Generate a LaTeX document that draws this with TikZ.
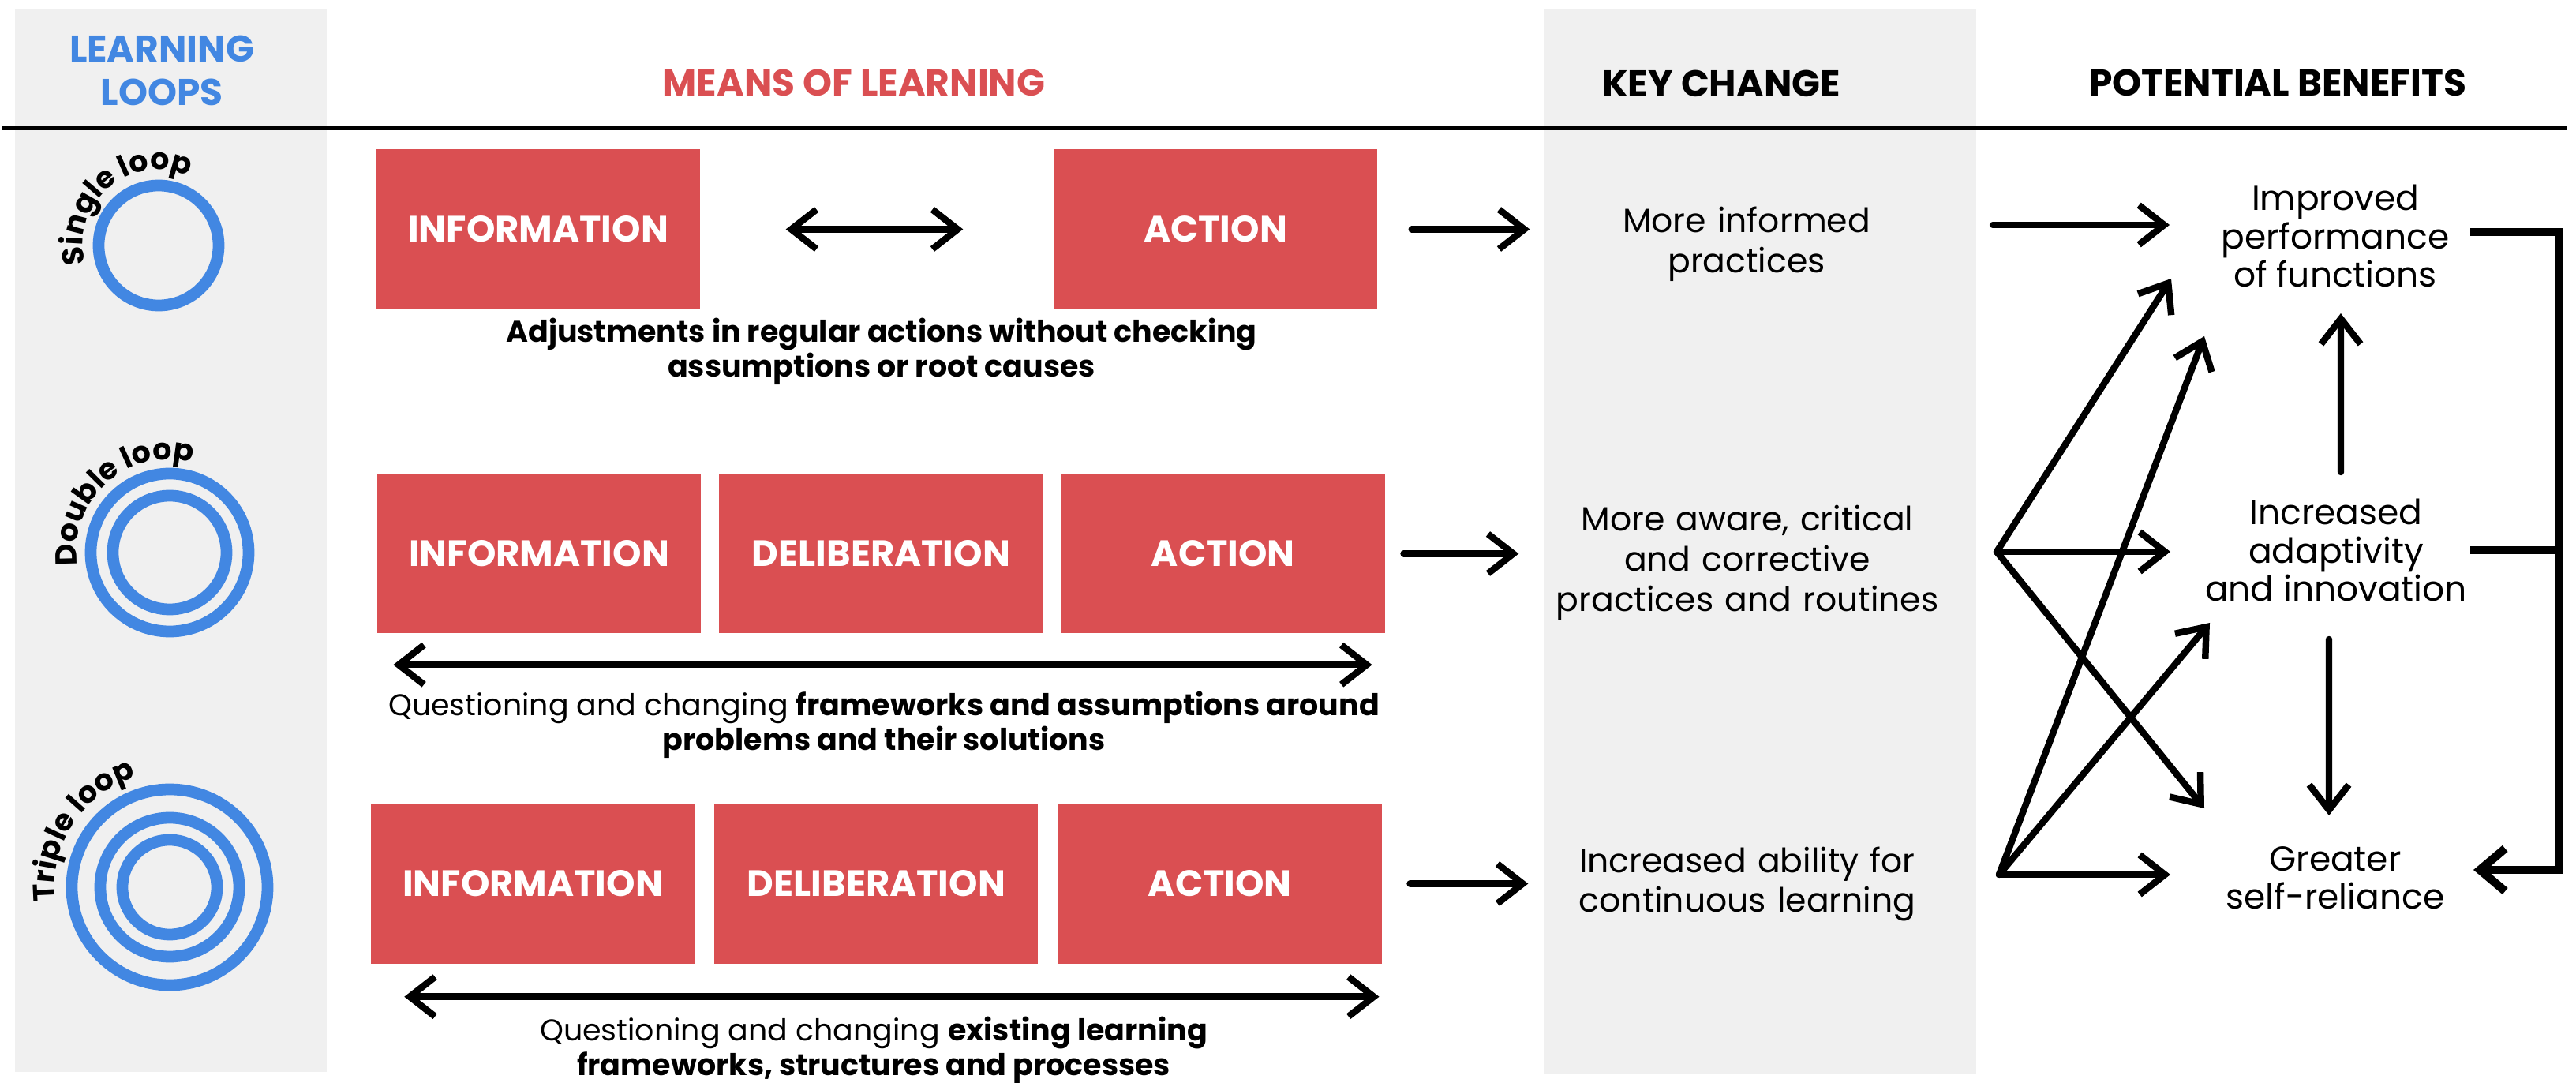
\documentclass[tikz,border=0pt]{standalone}
\usepackage{fontspec}
\setmainfont{Poppins}
\usepackage{tikz}
\usetikzlibrary{arrows.meta,positioning,decorations.text}
\definecolor{llblue}{RGB}{66,135,226}
\definecolor{llred}{RGB}{218,79,82}
\definecolor{llgrey}{RGB}{240,240,240}
\newcommand{\looplabel}{\bfseries\fontsize{10.8}{12}\selectfont}
\tikzstyle{arrow} = [line width=2.4pt, line cap=round, -{Straight Barb[length=3.2mm,width=5mm]}]
\tikzstyle{twoway} = [line width=2.4pt, line cap=round, {Straight Barb[length=3.2mm,width=5mm]}-{Straight Barb[length=3.2mm,width=5mm]}]
\tikzstyle{feedback} = [line width=3pt, -{Straight Barb[length=3.2mm,width=5.4mm]}]
\tikzstyle{means} = [fill=llred, text=white, minimum width=4.1cm, minimum height=2.02cm, inner sep=0pt, font=\bfseries\fontsize{13.2}{15}\selectfont]
\tikzstyle{head} = [font=\bfseries\fontsize{13.4}{15.6}\selectfont]
\tikzstyle{caption} = [align=center, font=\fontsize{10.8}{12.6}\selectfont]
\tikzstyle{change} = [align=center, text width=5cm, inner sep=0pt, font=\fontsize{12.1}{14.5}\selectfont]
\tikzstyle{benefit} = [align=center, font=\fontsize{12.5}{13.8}\selectfont]
\tikzstyle{ring} = [draw=llblue, line width=4.2pt]

\begin{document}
\begin{tikzpicture}
\useasboundingbox (0,0) rectangle (32.64,-13.72);
% grey columns and header rule
\fill[llgrey] (0.19,-0.11) rectangle (4.14,-13.58);
\fill[llgrey] (19.57,-0.11) rectangle (25.04,-13.60);
\draw[line width=1.5pt] (0.02,-1.62) -- (32.52,-1.62);

% column headings
\node[head, text=llblue, align=center] (hloops) at (2.05,-0.895) {LEARNING\\LOOPS};
\node[head, text=llred] (hmeans) at (10.82,-1.05) {MEANS OF LEARNING};
\node[head] (hchange) at (21.81,-1.06) {KEY CHANGE};
\node[head] (hbenefit) at (28.86,-1.05) {POTENTIAL BENEFITS};

% learning loops
\coordinate (single) at (2.01,-3.11);
\coordinate (double) at (2.15,-7.00);
\coordinate (triple) at (2.15,-11.24);
\draw[ring] (single) circle (0.76);
\draw[ring] (double) circle (1.00) (double) circle (0.72);
\draw[ring] (triple) circle (1.24) (triple) circle (0.88) (triple) circle (0.60);
\path[decorate, decoration={text along path, text={|\looplabel|Single loop}}]
  ([shift={(194:0.96)}]single) arc[start angle=194, end angle=-10, radius=0.96];
\path[decorate, decoration={text along path, text={|\looplabel|Double loop}}]
  ([shift={(188:1.18)}]double) arc[start angle=188, end angle=-10, radius=1.18];
\path[decorate, decoration={text along path, text={|\looplabel|Triple loop}}]
  ([shift={(187:1.46)}]triple) arc[start angle=187, end angle=-10, radius=1.46];

% means of learning, single loop
\node[means] (info1) at (6.82,-2.905) {INFORMATION};
\node[means] (act1) at (15.40,-2.905) {ACTION};
\draw[twoway, shorten <=10.8mm, shorten >=11.4mm] (info1.east) -- (act1.west);
\node[caption, font=\bfseries\fontsize{10.8}{12.6}\selectfont] (cap1) at (11.17,-4.45)
  {Adjustments in regular actions without checking\\assumptions or root causes};

% means of learning, double loop
\node[means] (info2) at (6.83,-7.015) {INFORMATION};
\node[means, right=2.2mm of info2] (delib2) {DELIBERATION};
\node[means, right=2.2mm of delib2] (act2) {ACTION};
\draw[twoway] ([shift={(2.1mm,-3.9mm)}]info2.south west) -- ([shift={(-1.7mm,-3.9mm)}]act2.south east);
\node[caption] (cap2) at (11.20,-9.18)
  {Questioning and changing \textbf{frameworks and assumptions around}\\\textbf{problems and their solutions}};

% means of learning, triple loop
\node[means] (info3) at (6.75,-11.195) {INFORMATION};
\node[means, right=2.4mm of info3] (delib3) {DELIBERATION};
\node[means, right=2.4mm of delib3] (act3) {ACTION};
\draw[twoway] ([shift={(4.3mm,-4.15mm)}]info3.south west) -- ([shift={(-0.4mm,-4.15mm)}]act3.south east);
\node[caption] (cap3) at (11.07,-13.30)
  {Questioning and changing \textbf{existing learning}\\\textbf{frameworks, structures and processes}};

% key changes
\node[change] (kc1) at (22.13,-3.09) {More informed\\practices};
\node[change] (kc2) at (22.14,-7.13) {More aware, critical\\and corrective\\practices and routines};
\node[change] (kc3) at (22.14,-11.20) {Increased ability for\\continuous learning};
\draw[arrow, shorten <=4.3mm, shorten >=2.4mm] (act1.east) -- (act1.east -| kc1.west);
\draw[arrow, shorten <=2.3mm, shorten >=3.9mm] (act2.east) -- (act2.east -| kc2.west);
\draw[arrow, shorten <=3.5mm, shorten >=2.7mm] (act3.east) -- (act3.east -| kc3.west);

% potential benefits
\node[benefit] (ben1) at (29.59,-2.99) {Improved\\performance\\of functions};
\node[benefit] (ben2) at (29.60,-6.97) {Increased\\adaptivity\\and innovation};
\node[benefit] (ben3) at (29.59,-11.12) {Greater\\self-reliance};

\coordinate (src1) at (25.25,-2.85);
\coordinate (fan2) at (25.30,-6.99);
\coordinate (fan3) at (25.33,-11.08);
\coordinate (to1a) at (27.49,-2.85);
\coordinate (to1b) at (27.51,-3.53);
\coordinate (to1c) at (27.93,-4.26);
\coordinate (to2b) at (27.50,-6.99);
\coordinate (to2c) at (28.00,-7.89);
\coordinate (to3b) at (27.93,-10.24);
\coordinate (to3c) at (27.50,-11.08);
\draw[arrow] (src1) -- (to1a);
\draw[arrow] (fan2) -- (to1b);
\draw[arrow] (fan2) -- (to2b);
\draw[arrow] (fan2) -- (to3b);
\draw[arrow] (fan3) -- (to1c);
\draw[arrow] (fan3) -- (to2c);
\draw[arrow] (fan3) -- (to3c);
\draw[arrow, shorten <=9.9mm, shorten >=9.8mm] ([xshift=0.6mm]ben2.center) -- ([xshift=0.7mm]ben1.center);
\draw[arrow, shorten <=11.3mm, shorten >=7.9mm] ([xshift=-0.9mm]ben2.center) -- ([xshift=-0.8mm]ben3.center);

% feedback bracket
\coordinate (fb1) at (31.30,-2.94);
\coordinate (fb2) at (31.30,-6.97);
\coordinate (fb3) at (31.34,-11.02);
\draw[feedback] (fb1) -- ++(1.12,0) |- (fb3);
\draw[line width=3pt] (fb2) -- ++(1.12,0);
\end{tikzpicture}
\end{document}
